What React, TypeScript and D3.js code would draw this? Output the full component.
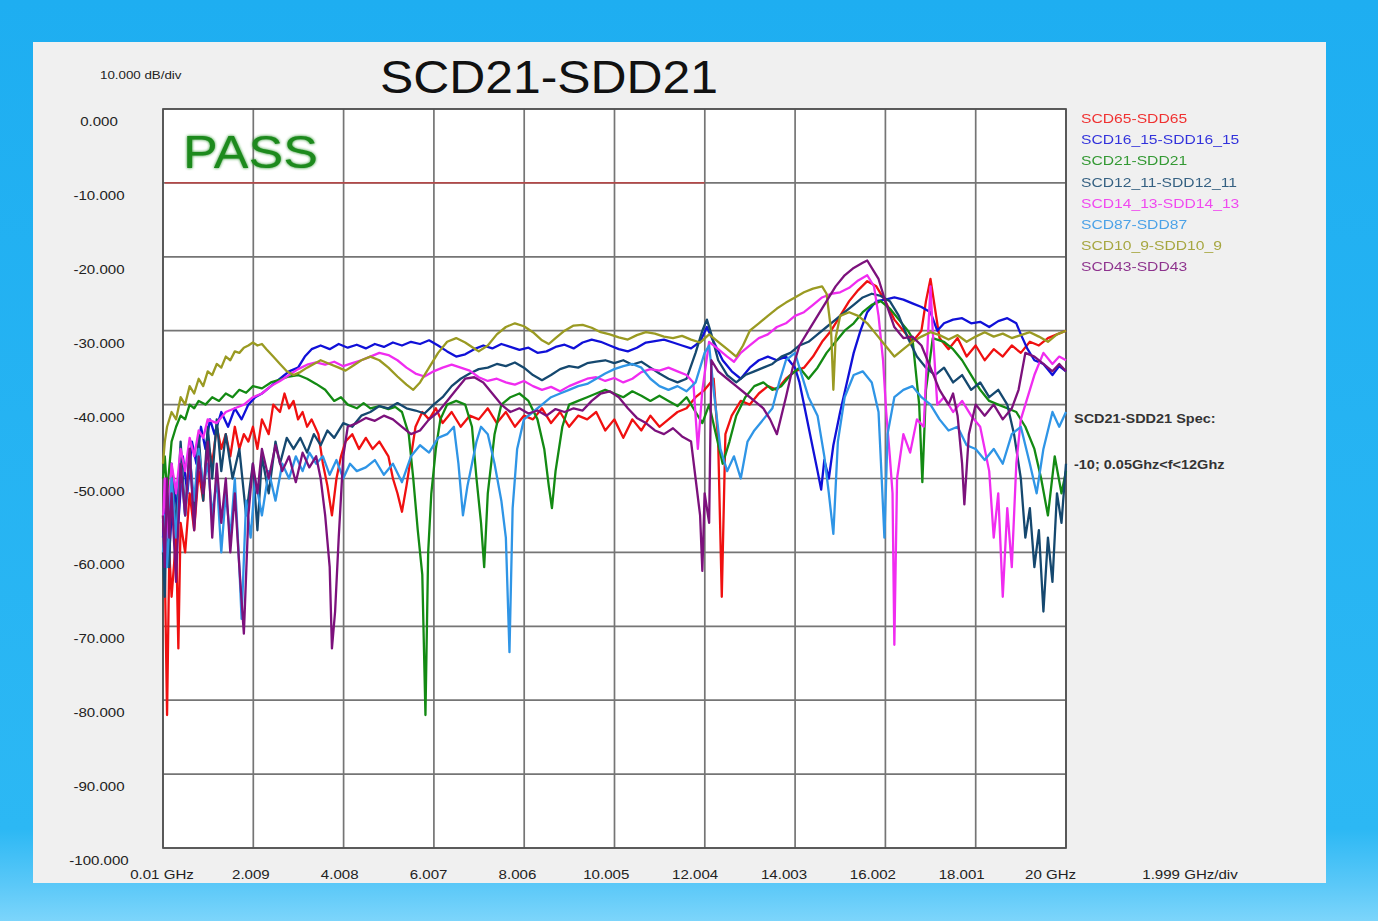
import React from "react";
import * as d3 from "d3";

const W = 1378;
const H = 921;
const PLOT = { left: 163, top: 109, right: 1066, bottom: 848 };

type Pt = [number, number];

// axis ticks
const yTicks = [0, -10, -20, -30, -40, -50, -60, -70, -80, -90, -100];
const yTickLabels = ["0.000", "-10.000", "-20.000", "-30.000", "-40.000", "-50.000", "-60.000", "-70.000", "-80.000", "-90.000", "-100.000"];
const xTicks = [0.01, 2.009, 4.008, 6.007, 8.006, 10.005, 12.004, 14.003, 16.002, 18.001, 20];
const xTickLabels = ["0.01 GHz", "2.009", "4.008", "6.007", "8.006", "10.005", "12.004", "14.003", "16.002", "18.001", "20 GHz"];

// spec limit: -10 dB from 0.05 to 12 GHz
const specLine: Pt[] = [[0.05, -10], [12, -10]];

// series (GHz, dB)
const scd65: Pt[] = [[0.01,-55],[0.05,-62],[0.1,-82],[0.15,-60],[0.2,-66],[0.3,-58],[0.35,-73],[0.4,-56],[0.5,-60],[0.6,-52],[0.7,-57],[0.8,-49],[0.9,-53],[1.0,-45],[1.1,-48],[1.2,-43],[1.3,-46],[1.4,-44],[1.5,-47],[1.6,-43],[1.7,-46],[1.8,-44],[1.9,-45],[2.0,-43],[2.1,-46],[2.2,-42],[2.35,-44],[2.45,-40],[2.6,-41],[2.7,-38.5],[2.8,-40.5],[2.9,-39.5],[3.0,-42],[3.1,-41],[3.2,-43],[3.3,-42],[3.45,-44],[3.55,-48],[3.65,-51],[3.75,-55],[3.85,-50],[3.95,-47],[4.05,-45],[4.2,-44],[4.35,-46],[4.5,-44.5],[4.65,-46],[4.8,-45],[5.0,-47],[5.1,-50],[5.2,-52],[5.3,-54.5],[5.4,-51],[5.5,-47],[5.6,-43],[5.75,-41],[5.9,-42],[6.05,-40.5],[6.2,-42.5],[6.4,-41],[6.6,-43],[6.8,-41.5],[7.0,-42],[7.2,-40.5],[7.4,-42.5],[7.6,-41],[7.8,-43],[8.0,-41.5],[8.2,-42],[8.4,-40.5],[8.6,-42.5],[8.8,-41],[9.0,-43],[9.2,-41.5],[9.4,-42],[9.6,-41],[9.8,-43.5],[10.0,-42],[10.2,-44.5],[10.4,-42],[10.6,-43.5],[10.8,-41.5],[11.0,-43],[11.2,-42],[11.4,-41],[11.6,-40.5],[11.8,-39],[12.0,-38],[12.2,-36.5],[12.3,-45],[12.38,-66],[12.46,-44],[12.6,-41.5],[12.8,-39.5],[13.0,-40],[13.2,-38.5],[13.4,-37.5],[13.6,-38],[13.8,-36.5],[14.0,-35.5],[14.2,-35],[14.4,-33.5],[14.6,-31.5],[14.8,-30],[15.0,-28],[15.2,-26],[15.4,-24.5],[15.6,-23.3],[15.8,-24],[16.0,-26],[16.2,-28.5],[16.4,-30],[16.6,-31.5],[16.8,-30],[16.9,-26],[17.0,-23],[17.1,-27],[17.2,-31],[17.4,-32.5],[17.6,-31],[17.8,-33.5],[18.0,-32],[18.2,-34],[18.4,-32.5],[18.6,-33.5],[18.8,-32],[19.0,-33],[19.2,-31.5],[19.4,-32],[19.6,-31],[19.8,-30.5],[20.0,-30]];

const scd16_15: Pt[] = [[0.01,-58],[0.08,-52],[0.15,-60],[0.25,-50],[0.35,-56],[0.45,-47],[0.55,-52],[0.65,-45],[0.75,-48],[0.85,-43],[0.95,-46],[1.05,-42],[1.15,-44],[1.3,-41],[1.45,-43],[1.6,-40.5],[1.75,-42],[1.9,-40],[2.05,-39],[2.2,-38.5],[2.4,-37.5],[2.6,-36.5],[2.8,-35.5],[3.0,-35],[3.15,-33.5],[3.3,-32.5],[3.5,-32],[3.7,-32.5],[3.9,-31.8],[4.1,-32.3],[4.3,-31.9],[4.5,-32.4],[4.7,-31.8],[4.9,-32.2],[5.1,-31.6],[5.3,-32],[5.5,-31.5],[5.7,-31.8],[5.9,-31.3],[6.1,-32],[6.3,-32.8],[6.5,-33.5],[6.7,-33.2],[6.9,-32.5],[7.1,-32],[7.3,-32.4],[7.5,-31.8],[7.7,-32.2],[7.9,-32.6],[8.1,-32.3],[8.3,-33],[8.5,-32.8],[8.7,-32.2],[8.9,-31.9],[9.1,-32.4],[9.3,-31.6],[9.5,-31.2],[9.7,-31.5],[9.9,-32],[10.1,-32.5],[10.3,-32.8],[10.5,-32.3],[10.7,-31.6],[10.9,-31.4],[11.1,-31.2],[11.3,-31.6],[11.5,-32],[11.7,-32.4],[11.9,-31.5],[12.05,-29.5],[12.2,-31.5],[12.4,-34],[12.6,-35.5],[12.8,-36.5],[13.0,-35],[13.2,-34],[13.4,-33.5],[13.6,-34],[13.8,-33.5],[14.0,-35],[14.1,-37],[14.2,-40],[14.3,-43],[14.4,-46],[14.5,-49],[14.58,-51.5],[14.65,-47.5],[14.75,-50],[14.85,-45.5],[15.0,-41],[15.15,-37],[15.3,-33],[15.45,-30],[15.6,-27.5],[15.8,-26],[16.0,-25.8],[16.2,-25.5],[16.4,-25.8],[16.6,-26.3],[16.8,-26.8],[17.0,-27.5],[17.15,-30],[17.3,-29],[17.5,-28.5],[17.7,-28.3],[17.9,-29],[18.1,-28.8],[18.3,-29.5],[18.5,-28.7],[18.7,-28.3],[18.9,-29],[19.0,-30.5],[19.15,-32.5],[19.3,-34],[19.5,-34.5],[19.7,-36],[19.85,-34.8],[20.0,-35.5]];

const scd21: Pt[] = [[0.01,-50],[0.05,-47],[0.1,-52],[0.2,-45],[0.3,-43],[0.4,-41.5],[0.5,-42],[0.6,-40],[0.7,-40.5],[0.8,-39.5],[0.95,-40],[1.1,-39],[1.25,-39.5],[1.4,-38.5],[1.55,-39],[1.7,-38],[1.85,-38.4],[2.0,-37.5],[2.2,-37.8],[2.4,-37],[2.6,-36.6],[2.8,-36.2],[3.0,-36],[3.2,-36.5],[3.4,-37.2],[3.6,-38],[3.8,-39.5],[3.95,-39],[4.1,-40],[4.3,-40.5],[4.45,-39.8],[4.6,-40.5],[4.8,-40.2],[5.0,-40.6],[5.15,-40.3],[5.3,-41],[5.45,-44],[5.55,-50],[5.65,-57],[5.75,-63],[5.82,-82],[5.88,-60],[5.95,-52],[6.05,-46],[6.15,-42],[6.3,-40],[6.5,-39.5],[6.7,-40],[6.85,-43],[6.95,-50],[7.05,-56],[7.12,-62],[7.2,-52],[7.35,-44],[7.5,-40],[7.7,-39],[7.9,-38.5],[8.1,-39.5],[8.3,-42],[8.45,-46],[8.55,-51],[8.62,-54],[8.7,-49],[8.85,-43],[9.0,-40],[9.2,-39.5],[9.4,-39],[9.6,-38.5],[9.8,-38],[10.0,-38.5],[10.2,-39],[10.4,-38.2],[10.6,-38.8],[10.8,-39.5],[11.0,-38.8],[11.2,-39.5],[11.4,-40.2],[11.6,-39],[11.8,-41],[11.95,-42.5],[12.1,-40],[12.25,-44],[12.4,-48],[12.55,-45],[12.7,-41.5],[12.9,-39],[13.1,-37.5],[13.3,-37],[13.5,-38],[13.7,-37.5],[13.9,-36],[14.1,-35],[14.3,-36.5],[14.5,-35],[14.7,-33],[14.9,-31.5],[15.1,-30],[15.3,-29],[15.5,-27.5],[15.7,-26.5],[15.9,-26],[16.1,-27],[16.3,-28.5],[16.5,-30],[16.6,-31],[16.75,-40],[16.82,-50.5],[16.9,-38],[17.05,-31],[17.3,-31.5],[17.5,-32.5],[17.7,-34],[17.9,-36],[18.1,-38],[18.3,-39.5],[18.5,-40],[18.7,-40.5],[18.9,-41],[19.1,-43],[19.3,-46],[19.45,-50],[19.6,-55],[19.75,-47],[19.9,-52],[20.0,-49]];

const scd12_11: Pt[] = [[0.01,-60],[0.05,-66],[0.1,-52],[0.15,-62],[0.2,-48],[0.3,-57],[0.4,-45],[0.5,-55],[0.6,-46],[0.7,-56],[0.8,-44],[0.9,-53],[1.0,-43],[1.1,-50],[1.2,-42],[1.3,-49],[1.4,-44],[1.55,-50],[1.7,-46],[1.85,-55],[2.0,-48],[2.1,-57],[2.2,-47],[2.35,-52],[2.5,-45],[2.6,-48],[2.75,-44.5],[2.9,-46],[3.05,-44.5],[3.2,-46.5],[3.35,-44],[3.5,-45.5],[3.65,-43.5],[3.8,-44.5],[4.0,-42.5],[4.2,-43],[4.4,-41.5],[4.6,-41],[4.8,-40.2],[5.0,-40.5],[5.2,-39.8],[5.4,-40.5],[5.6,-40.8],[5.8,-41.2],[6.0,-40],[6.2,-39],[6.4,-37.5],[6.6,-36.5],[6.8,-35.8],[7.0,-35.2],[7.2,-35],[7.4,-34.5],[7.6,-34.8],[7.8,-34.3],[8.0,-35],[8.2,-36],[8.4,-36.7],[8.6,-36],[8.8,-35.2],[9.0,-34.8],[9.2,-35],[9.4,-34.4],[9.6,-34.2],[9.8,-34],[10.0,-34.4],[10.2,-34],[10.4,-34.6],[10.6,-34.2],[10.8,-35],[11.0,-35.8],[11.2,-36.5],[11.4,-37],[11.6,-36.5],[11.8,-33],[11.95,-30],[12.05,-28.5],[12.15,-30.5],[12.3,-34],[12.5,-36],[12.7,-37],[12.9,-36],[13.1,-35.5],[13.3,-35],[13.5,-34.5],[13.7,-33.5],[13.9,-33],[14.1,-32],[14.3,-31.5],[14.5,-30.5],[14.7,-29.5],[14.9,-28.5],[15.1,-27.5],[15.3,-26.5],[15.5,-25.5],[15.7,-25],[15.9,-25.3],[16.1,-26],[16.3,-28],[16.5,-31],[16.7,-33.5],[16.9,-35],[17.1,-36],[17.3,-35],[17.5,-37],[17.7,-36],[17.9,-38],[18.1,-37],[18.3,-39],[18.5,-38],[18.7,-40],[18.85,-44],[19.0,-50],[19.1,-58],[19.2,-54],[19.3,-62],[19.4,-57],[19.5,-68],[19.6,-58],[19.7,-64],[19.8,-52],[19.9,-56],[20.0,-48]];

const scd14_13: Pt[] = [[0.01,-56],[0.05,-50],[0.1,-58],[0.2,-48],[0.3,-52],[0.4,-46],[0.5,-49],[0.6,-44.5],[0.7,-47],[0.8,-43.5],[0.9,-44.5],[1.0,-42],[1.2,-42.5],[1.4,-41],[1.6,-40.5],[1.8,-40],[2.0,-39],[2.2,-38.5],[2.4,-37.5],[2.6,-36.8],[2.8,-36],[3.0,-35.2],[3.2,-34.6],[3.4,-34.3],[3.6,-34.6],[3.8,-34.2],[4.0,-34.8],[4.2,-34.4],[4.4,-34],[4.6,-33.5],[4.8,-33],[5.0,-33.3],[5.2,-34],[5.4,-35],[5.6,-35.8],[5.8,-36.2],[6.0,-35.5],[6.2,-35],[6.4,-34.6],[6.6,-35],[6.8,-35.4],[7.0,-36.3],[7.2,-36.8],[7.4,-36.5],[7.6,-37],[7.8,-37.3],[8.0,-36.8],[8.2,-37.5],[8.4,-38],[8.6,-37.6],[8.8,-38.2],[9.0,-37.5],[9.2,-37],[9.4,-36.5],[9.6,-36.3],[9.8,-36.8],[10.0,-36.4],[10.2,-37],[10.4,-36.5],[10.6,-35.6],[10.8,-35.2],[11.0,-35.4],[11.2,-35],[11.4,-35.5],[11.6,-36],[11.75,-37],[11.85,-46],[11.95,-38],[12.1,-31.5],[12.3,-32.5],[12.5,-33.5],[12.65,-34.2],[12.8,-33],[13.0,-32],[13.2,-31],[13.4,-30.5],[13.6,-29.5],[13.8,-29],[14.0,-28],[14.2,-27.5],[14.4,-26.5],[14.6,-25.5],[14.8,-25],[15.0,-24.8],[15.2,-24.2],[15.4,-23.2],[15.6,-22.5],[15.75,-24],[15.85,-28],[15.95,-34],[16.02,-41],[16.1,-47],[16.16,-52],[16.2,-72.5],[16.26,-50],[16.4,-44],[16.55,-46.5],[16.7,-42],[16.85,-43],[16.95,-30],[17.0,-24],[17.05,-30],[17.15,-40],[17.3,-39],[17.5,-41],[17.7,-39.5],[17.9,-41.5],[18.1,-43],[18.3,-49],[18.4,-58],[18.5,-52],[18.6,-66],[18.7,-54],[18.8,-62],[18.9,-48],[19.0,-42],[19.1,-40],[19.3,-36],[19.5,-33],[19.7,-34.5],[19.85,-33.5],[20.0,-34]];

const scd87: Pt[] = [[0.01,-60],[0.05,-55],[0.1,-62],[0.2,-50],[0.3,-58],[0.4,-48],[0.5,-55],[0.6,-47],[0.7,-53],[0.8,-46],[0.9,-51],[1.0,-48],[1.1,-55],[1.2,-50],[1.3,-60],[1.4,-52],[1.5,-58],[1.6,-50],[1.7,-62],[1.75,-69],[1.85,-53],[1.95,-58],[2.05,-50],[2.2,-55],[2.35,-49],[2.5,-53],[2.65,-48],[2.8,-50],[2.95,-47],[3.1,-49],[3.25,-46.5],[3.4,-48],[3.55,-47],[3.7,-49.5],[3.85,-47.5],[4.0,-50],[4.15,-48],[4.3,-49],[4.5,-48.5],[4.7,-47.5],[4.9,-49.5],[5.1,-48],[5.3,-50.5],[5.5,-47],[5.7,-45.5],[5.9,-46.5],[6.1,-44.5],[6.3,-44],[6.45,-43],[6.55,-48],[6.65,-55],[6.75,-51],[6.85,-48],[6.95,-45],[7.05,-43],[7.2,-44],[7.35,-48],[7.5,-53],[7.6,-58],[7.68,-73.5],[7.75,-54],[7.85,-46],[8.0,-42],[8.2,-41],[8.4,-40],[8.6,-39],[8.8,-38.5],[9.0,-38],[9.2,-37.5],[9.4,-37.2],[9.6,-36.5],[9.8,-35.8],[10.0,-35.2],[10.2,-34.8],[10.4,-34.5],[10.6,-35],[10.8,-36.5],[11.0,-37.5],[11.2,-38],[11.4,-37.5],[11.6,-38.2],[11.8,-37],[12.0,-33],[12.1,-32],[12.2,-38],[12.35,-46],[12.5,-49],[12.65,-47],[12.8,-50],[12.95,-45],[13.1,-43.5],[13.3,-42],[13.5,-40.5],[13.65,-37],[13.8,-34],[14.0,-33],[14.15,-36],[14.3,-39],[14.5,-41.5],[14.65,-47],[14.75,-52],[14.85,-57.5],[14.95,-45],[15.1,-39],[15.3,-36],[15.5,-35.5],[15.7,-37],[15.85,-41],[15.92,-50],[15.98,-58],[16.05,-44],[16.2,-39],[16.4,-38],[16.6,-37.5],[16.8,-39],[17.0,-40],[17.2,-42],[17.4,-43.5],[17.6,-43],[17.8,-45.5],[18.0,-46],[18.2,-47.5],[18.4,-46],[18.6,-48],[18.8,-44],[19.0,-43],[19.2,-48],[19.35,-52],[19.5,-46],[19.7,-41],[19.85,-43],[20.0,-41]];

const scd10_9: Pt[] = [[0.01,-48],[0.05,-45],[0.1,-43],[0.2,-41],[0.3,-42],[0.4,-39],[0.5,-40],[0.6,-37.5],[0.7,-38.5],[0.8,-36.5],[0.9,-37.5],[1.0,-35.5],[1.1,-36],[1.2,-34.5],[1.3,-35],[1.4,-33.5],[1.5,-34],[1.6,-32.8],[1.7,-33],[1.8,-32.3],[1.9,-32],[2.0,-31.6],[2.1,-32],[2.2,-31.8],[2.3,-32.5],[2.45,-33.5],[2.6,-34.5],[2.75,-35.5],[2.9,-36],[3.05,-35.6],[3.2,-35],[3.35,-34.5],[3.5,-34],[3.7,-34.5],[3.9,-35],[4.05,-35.4],[4.2,-34.8],[4.4,-34],[4.6,-33.5],[4.8,-34],[5.0,-35],[5.2,-36.2],[5.4,-37.3],[5.55,-38],[5.7,-37],[5.9,-35],[6.1,-33],[6.3,-31.5],[6.5,-31],[6.7,-31.6],[6.9,-32.4],[7.0,-32.8],[7.2,-32],[7.4,-30.5],[7.6,-29.5],[7.8,-29],[8.0,-29.4],[8.2,-30.2],[8.4,-31.3],[8.55,-31.8],[8.7,-31],[8.9,-30],[9.1,-29.3],[9.3,-29.2],[9.5,-29.6],[9.7,-30.2],[9.9,-30.5],[10.1,-30.9],[10.3,-31.2],[10.5,-30.6],[10.7,-30.2],[10.9,-30.4],[11.1,-30.8],[11.3,-31],[11.5,-30.7],[11.7,-31.2],[11.9,-31.6],[12.1,-30.5],[12.3,-31.5],[12.5,-32.5],[12.7,-33.5],[12.85,-32],[13.0,-30],[13.2,-29],[13.4,-28],[13.6,-27],[13.8,-26.2],[14.0,-25.5],[14.2,-24.8],[14.4,-24.3],[14.6,-24],[14.7,-25],[14.8,-30],[14.85,-38],[14.9,-31],[15.0,-28],[15.2,-27.5],[15.4,-28],[15.6,-29],[15.8,-30.5],[16.0,-32],[16.2,-33.5],[16.4,-32.5],[16.6,-31.5],[16.8,-30.8],[17.0,-30.2],[17.2,-30.6],[17.4,-31.2],[17.6,-30.6],[17.8,-31.5],[18.0,-30.8],[18.2,-30.2],[18.4,-30.8],[18.6,-30.4],[18.8,-31],[19.0,-30.6],[19.2,-30.2],[19.4,-30.8],[19.6,-31.5],[19.8,-30.5],[20.0,-30]];

const scd43: Pt[] = [[0.01,-55],[0.05,-62],[0.1,-50],[0.15,-58],[0.2,-52],[0.3,-64],[0.4,-48],[0.5,-55],[0.6,-46],[0.7,-57],[0.8,-47],[0.9,-52],[1.0,-45],[1.1,-58],[1.2,-48],[1.3,-56],[1.4,-50],[1.5,-60],[1.6,-52],[1.7,-62],[1.8,-71],[1.9,-55],[2.0,-48],[2.1,-52],[2.2,-46],[2.35,-50],[2.5,-45.5],[2.65,-49],[2.8,-47],[2.95,-50.5],[3.1,-46.5],[3.25,-48.5],[3.4,-47],[3.5,-50],[3.6,-55],[3.7,-62],[3.75,-73],[3.82,-68],[3.9,-58],[4.0,-47],[4.1,-43],[4.3,-42.5],[4.5,-41.8],[4.7,-42.2],[4.9,-41.5],[5.1,-42],[5.3,-43],[5.5,-44],[5.7,-43.5],[5.9,-42],[6.1,-41],[6.3,-39.5],[6.5,-38],[6.7,-36.5],[6.9,-36.3],[7.1,-37],[7.3,-38.5],[7.5,-40],[7.7,-41],[7.9,-40.5],[8.1,-41.2],[8.3,-40.8],[8.5,-41.5],[8.7,-40.6],[8.9,-41],[9.1,-40.5],[9.3,-40.8],[9.5,-39.5],[9.7,-38.5],[9.9,-38.2],[10.1,-39],[10.3,-40.5],[10.5,-41.8],[10.7,-42.5],[10.9,-43.5],[11.1,-44],[11.3,-43.2],[11.5,-44.3],[11.7,-45],[11.8,-50],[11.9,-55],[11.95,-62.5],[12.0,-52],[12.1,-56],[12.15,-34],[12.3,-35.5],[12.5,-36.5],[12.7,-37.5],[12.9,-38.5],[13.1,-39.5],[13.3,-40.5],[13.45,-42],[13.6,-44],[13.7,-41.5],[13.8,-39],[13.95,-35],[14.1,-32],[14.3,-30],[14.5,-28],[14.7,-26],[14.9,-24],[15.1,-22.5],[15.3,-21.5],[15.5,-20.8],[15.6,-20.5],[15.7,-21.5],[15.85,-23],[16.0,-26],[16.2,-29.5],[16.4,-31],[16.6,-30.8],[16.8,-32],[17.0,-35],[17.2,-38],[17.4,-40],[17.5,-38.5],[17.6,-41.5],[17.7,-48],[17.75,-53.5],[17.85,-44],[18.0,-40],[18.2,-41.5],[18.4,-40],[18.6,-42],[18.8,-40.5],[18.95,-38],[19.1,-33],[19.3,-33.5],[19.5,-34.5],[19.7,-35.5],[19.85,-34.5],[20.0,-35.5]];

const seriesNames = ["SCD65-SDD65", "SCD16_15-SDD16_15", "SCD21-SDD21", "SCD12_11-SDD12_11", "SCD14_13-SDD14_13", "SCD87-SDD87", "SCD10_9-SDD10_9", "SCD43-SDD43"];
const seriesColors = ["#f01010", "#1010d8", "#138a13", "#15486f", "#f02cf0", "#2f95e6", "#9a9a22", "#7c117c"];
const seriesData = [scd65, scd16_15, scd21, scd12_11, scd14_13, scd87, scd10_9, scd43];

const FONT = "Arial, 'Liberation Sans', sans-serif";
const SX = 1.16; // the screenshot's small text is a bit stretched horizontally

function WideText({ x, y, children, ...rest }: any) {
  return (
    <text transform={`translate(${x},${y}) scale(${SX},1)`} {...rest}>
      {children}
    </text>
  );
}

export default function App() {
  const x = d3.scaleLinear().domain([0.01, 20]).range([PLOT.left, PLOT.right]);
  const y = d3.scaleLinear().domain([0, -100]).range([PLOT.top, PLOT.bottom]);
  const line = d3.line<Pt>().x((d) => x(d[0])).y((d) => y(d[1]));
  // x labels in the original drift slightly left of their grid lines
  const labelStep = ((PLOT.right - PLOT.left) * 0.984) / (xTickLabels.length - 1);

  return (
    <div style={{ position: "absolute", left: 0, top: 0 }}>
      <svg width={W} height={H} style={{ display: "block", fontFamily: FONT }}>
        <defs>
          <linearGradient id="bg" x1="0" y1="0" x2="0" y2="1">
            <stop offset="0" stopColor="#1eaef1" />
            <stop offset="0.9" stopColor="#2cb8f4" />
            <stop offset="0.96" stopColor="#5ac8f8" />
            <stop offset="1" stopColor="#7cd5fb" />
          </linearGradient>
          <filter id="glow" x="-10%" y="-20%" width="120%" height="140%">
            <feGaussianBlur stdDeviation="1.5" result="b" />
            <feMerge>
              <feMergeNode in="b" />
              <feMergeNode in="SourceGraphic" />
            </feMerge>
          </filter>
        </defs>
        <rect x={0} y={0} width={W} height={H} fill="url(#bg)" />
        <rect x={33} y={42} width={1293} height={841} fill="#f0f0f0" />

        <WideText x={100} y={79} fontSize={11.5} fill="#222">10.000 dB/div</WideText>
        <text x={380} y={93} fontSize={46} fill="#111" textLength={338} lengthAdjust="spacingAndGlyphs">SCD21-SDD21</text>

        {/* plot area */}
        <rect x={PLOT.left} y={PLOT.top} width={PLOT.right - PLOT.left} height={PLOT.bottom - PLOT.top} fill="#fff" />
        {yTicks.map((t) => (
          <line key={"gy" + t} x1={PLOT.left} x2={PLOT.right} y1={y(t)} y2={y(t)} stroke="#757575" strokeWidth={1.7} />
        ))}
        {xTicks.map((t) => (
          <line key={"gx" + t} x1={x(t)} x2={x(t)} y1={PLOT.top} y2={PLOT.bottom} stroke="#757575" strokeWidth={1.7} />
        ))}
        <rect x={PLOT.left} y={PLOT.top} width={PLOT.right - PLOT.left} height={PLOT.bottom - PLOT.top} fill="none" stroke="#505050" strokeWidth={1.7} />

        <path d={line(specLine) || ""} stroke="#c83a3a" strokeWidth={1.4} fill="none" />

        <text x={183} y={168} fontSize={47} fill="#1c8a1c" textLength={135} lengthAdjust="spacingAndGlyphs" filter="url(#glow)">PASS</text>

        {seriesData.map((d, i) => (
          <path key={seriesNames[i]} d={line(d) || ""} fill="none" stroke={seriesColors[i]} strokeWidth={2.3} strokeLinejoin="round" />
        ))}

        {/* y axis labels */}
        {yTicks.map((t, i) => (
          <WideText key={"yl" + t} x={99} y={y(t) + 17} fontSize={13} textAnchor="middle" fill="#222">
            {yTickLabels[i]}
          </WideText>
        ))}
        {/* x axis labels */}
        {xTickLabels.map((l, i) => (
          <WideText key={"xl" + l} x={PLOT.left - 1 + i * labelStep} y={879} fontSize={13} textAnchor="middle" fill="#222">
            {l}
          </WideText>
        ))}
        <WideText x={1190} y={879} fontSize={13} textAnchor="middle" fill="#222">1.999 GHz/div</WideText>

        {/* legend */}
        {seriesNames.map((n, i) => (
          <WideText key={"lg" + n} x={1081} y={123 + i * 21.2} fontSize={13.5} fill={seriesColors[i]} opacity={0.85}>
            {n}
          </WideText>
        ))}

        <WideText x={1074} y={423} fontSize={12.5} fontWeight="bold" fill="#333">SCD21-SDD21 Spec:</WideText>
        <WideText x={1074} y={469} fontSize={12.5} fontWeight="bold" fill="#333">{"-10; 0.05Ghz<f<12Ghz"}</WideText>
      </svg>
    </div>
  );
}
